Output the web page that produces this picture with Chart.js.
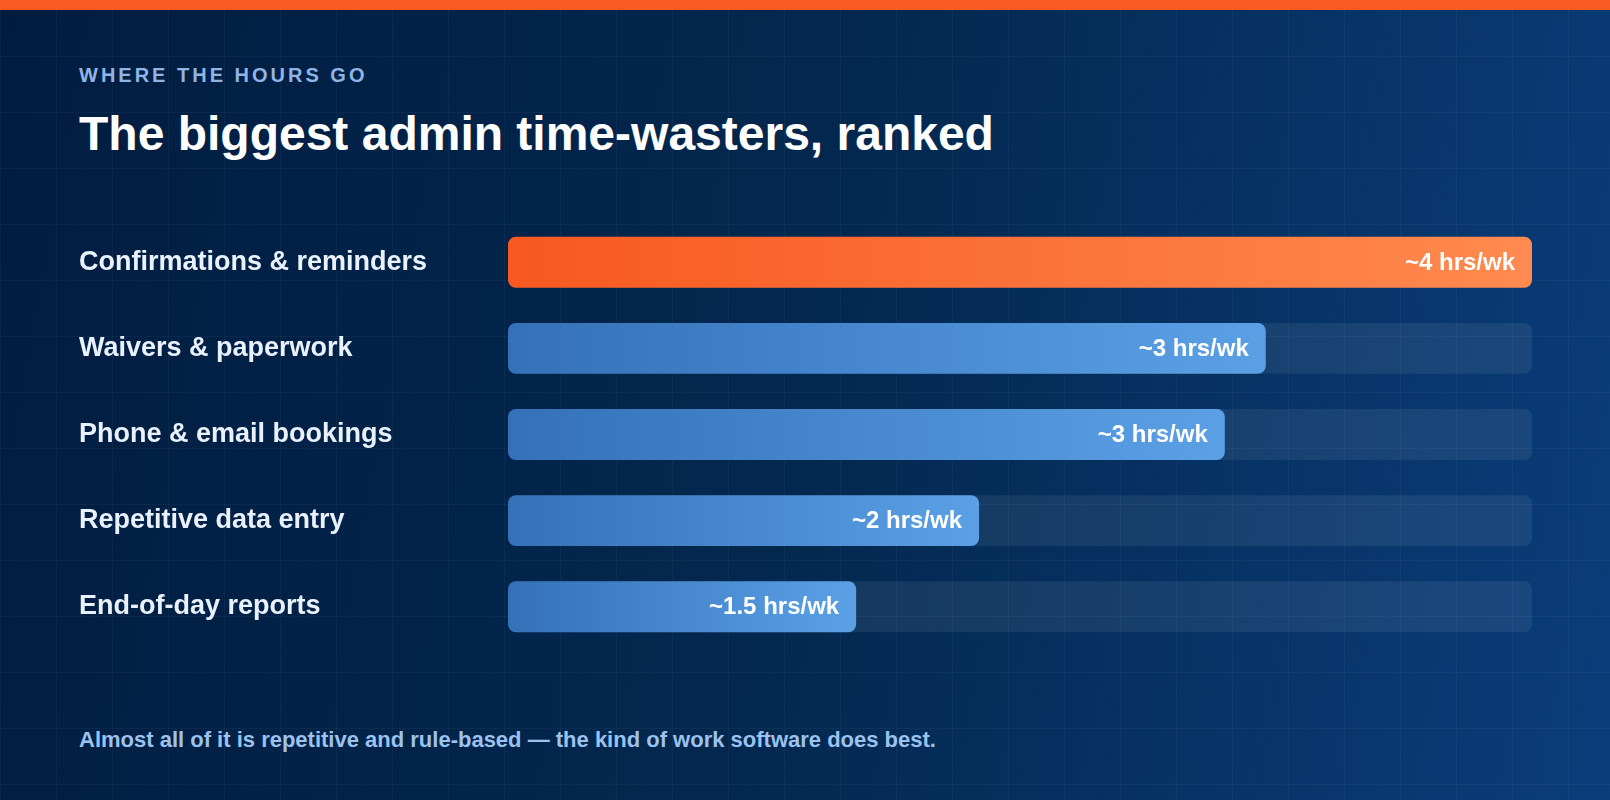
<!DOCTYPE html>
<html>
<head>
<meta charset="utf-8">
<script src="https://cdn.jsdelivr.net/npm/chart.js@4"></script>
<style>
  html, body { margin: 0; padding: 0; }
  body {
    width: 1610px; height: 800px; overflow: hidden; position: relative;
    font-family: "Liberation Sans", Arial, Helvetica, sans-serif;
    background-color: #03234d;
    background-image:
      linear-gradient(rgba(255,255,255,0.035) 1px, transparent 1px),
      linear-gradient(90deg, rgba(255,255,255,0.035) 1px, transparent 1px),
      linear-gradient(100deg, #021c40 0%, #03284f 50%, #0a3d7a 100%);
    background-size: 56px 56px, 56px 56px, 100% 100%;
  }
  .topbar { position: absolute; left: 0; top: 0; width: 100%; height: 10px; background: #f95a22; }
  .eyebrow {
    position: absolute; left: 79px; top: 64px; font-size: 20px; line-height: 22px;
    font-weight: bold; letter-spacing: 3px; color: #8fb5e6;
  }
  .title {
    position: absolute; left: 79px; top: 106px; font-size: 48px; line-height: 56px;
    font-weight: bold; color: #ffffff;
  }
  .note {
    position: absolute; left: 79px; top: 728px; font-size: 22px; line-height: 24px;
    font-weight: bold; color: #9cc2ef;
  }
  .chart-box { position: absolute; left: 0; top: 203px; width: 1610px; height: 463px; }
</style>
</head>
<body>
<div class="topbar"></div>
<div class="eyebrow">WHERE THE HOURS GO</div>
<div class="title">The biggest admin time-wasters, ranked</div>
<div class="chart-box"><canvas id="myChart"></canvas></div>
<div class="note">Almost all of it is repetitive and rule-based — the kind of work software does best.</div>

<script>
// ------------------   DATA   ----------------
const categories = [
  'Confirmations & reminders',
  'Waivers & paperwork',
  'Phone & email bookings',
  'Repetitive data entry',
  'End-of-day reports',
];
// bar length as % of the longest bar
const barShare = [100, 74, 70, 46, 34];
const valueLabels = ['~4 hrs/wk', '~3 hrs/wk', '~3 hrs/wk', '~2 hrs/wk', '~1.5 hrs/wk'];
const trackValues = [100, 100, 100, 100, 100];

const FONT = '"Liberation Sans", Arial, Helvetica, sans-serif';

// ------------   FUNCTIONS   ----------------------
function barGradient(context) {
  const chart = context.chart;
  if (!chart.chartArea || context.dataIndex === undefined) return '#3e80c8';
  const xScale = chart.scales.x;
  const x0 = xScale.getPixelForValue(0);
  const x1 = xScale.getPixelForValue(barShare[context.dataIndex]);
  const g = chart.ctx.createLinearGradient(x0, 0, x1, 0);
  if (context.dataIndex === 0) {
    g.addColorStop(0, '#f75920');
    g.addColorStop(1, '#ff8a4f');
  } else {
    g.addColorStop(0, '#3471b8');
    g.addColorStop(1, '#5ba0e5');
  }
  return g;
}

const valueLabelPlugin = {
  id: 'valueLabels',
  afterDatasetsDraw(chart) {
    const meta = chart.getDatasetMeta(0);
    const ctx = chart.ctx;
    ctx.save();
    ctx.font = 'bold 24px ' + FONT;
    ctx.fillStyle = '#ffffff';
    ctx.textAlign = 'right';
    ctx.textBaseline = 'middle';
    meta.data.forEach((bar, i) => {
      ctx.fillText(valueLabels[i], bar.x - 17, bar.y + 1);
    });
    ctx.restore();
  },
};

function renderChart() {
  const ctx = document.getElementById('myChart').getContext('2d');
  new Chart(ctx, {
    type: 'bar',
    data: {
      labels: categories,
      datasets: [
        {
          label: 'Hours',
          data: barShare,
          backgroundColor: barGradient,
          borderRadius: 8,
          borderSkipped: false,
          order: 1,
        },
        {
          label: 'Track',
          data: trackValues,
          backgroundColor: 'rgba(255, 255, 255, 0.07)',
          borderRadius: 8,
          borderSkipped: false,
          order: 2,
        },
      ],
    },
    options: {
      indexAxis: 'y',
      responsive: true,
      maintainAspectRatio: false,
      animation: false,
      grouped: false,
      barPercentage: 1,
      categoryPercentage: 0.592,
      layout: { padding: { left: 79, right: 78, top: 0, bottom: 0 } },
      plugins: { legend: { display: false }, tooltip: { enabled: false } },
      scales: {
        x: { display: false, min: 0, max: 100 },
        y: {
          grid: { display: false },
          border: { display: false },
          afterFit: (scale) => { scale.width = 429; },
          ticks: {
            color: '#e8f1fc',
            crossAlign: 'far',
            padding: 0,
            font: { family: FONT, size: 27, weight: 'bold', lineHeight: 1.2 },
          },
        },
      },
    },
    plugins: [valueLabelPlugin],
  });
}

renderChart();
</script>
</body>
</html>
